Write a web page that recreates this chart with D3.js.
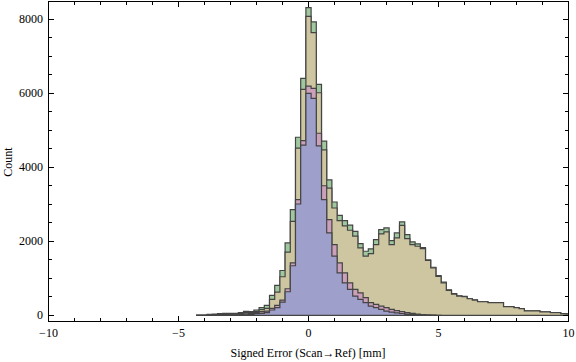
<!DOCTYPE html>
<html>
<head>
<meta charset="utf-8">
<script src="https://cdn.jsdelivr.net/npm/d3@7"></script>
<style>
    html, body { margin: 0; padding: 0; background: #fff; }
    svg { display: block; }
    text { font-family: "Liberation Serif", "DejaVu Serif", serif; font-size: 12px; fill: #000; }
</style>
</head>
<body>
<svg id="chart" width="576" height="362"></svg>
<script>
// bins of 0.2 mm, centred on 0.2*k, k = -21 .. 50
var binFirst = -21;
var binWidth = 0.2;

// all points (green, back)
var greenCounts = [
    5, 9, 27, 36, 45, 54, 54, 54, 72, 108, 99, 144, 207, 269, 539, 808, 1212, 1958, 2856, 4813, 6403,
    8316, 7929, 6241, 4706, 3664, 3063, 2700, 2560, 2440, 2270,
    1940, 1732, 1797, 2047, 2317, 2362, 2020, 2227, 2524, 2182,
    1985, 1931, 1830, 1500, 1300, 1075, 900, 690, 590, 530,
    512, 455, 418, 372, 372, 345, 345, 345, 236, 236,
    208, 181, 123, 123, 123, 96, 96, 73, 73, 46,
    41
];
var tanCounts = [
    5, 9, 15, 20, 25, 27, 36, 36, 45, 72, 72, 108, 153, 189, 431, 628, 1043, 1706, 2540, 4517, 6107,
    8082, 7642, 6016, 4472, 3440, 2901, 2560, 2420, 2300, 2140,
    1823, 1598, 1670, 1913, 2200, 2254, 1913, 2092, 2433, 2074,
    1913, 1867, 1805, 1482, 1285, 1055, 880, 673, 575, 520,
    505, 449, 413, 368, 368, 342, 342, 342, 234, 234,
    207, 180, 122, 122, 122, 95, 95, 72, 72, 45,
    40
];
var pinkCounts = [
    0, 0, 2, 4, 6, 8, 12, 15, 25, 40, 45, 81, 99, 116, 189, 269, 413, 719, 1420, 3125, 4723,
    6196, 6134, 4921, 3502, 2586, 1913, 1420, 1150, 880, 700,
    610, 477, 342, 296, 251, 207, 162, 130, 100, 75,
    55, 35, 20, 12, 6, 3, 0, 0, 0, 0,
    0, 0, 0, 0, 0, 0, 0, 0, 0, 0,
    0, 0, 0, 0, 0, 0, 0, 0, 0, 0,
    0
];
var blueCounts = [
    0, 0, 0, 2, 3, 4, 6, 8, 10, 15, 18, 45, 54, 72, 144, 207, 360, 638, 1340, 3009, 4600,
    6000, 5865, 4580, 3125, 2228, 1598, 1150, 880, 700, 520,
    431, 342, 251, 207, 162, 116, 89, 65, 50, 35,
    22, 12, 6, 3, 1, 0, 0, 0, 0, 0,
    0, 0, 0, 0, 0, 0, 0, 0, 0, 0,
    0, 0, 0, 0, 0, 0, 0, 0, 0, 0,
    0
];

var xTickLabels = [-10, -5, 0, 5, 10];
var yTickLabels = [0, 2000, 4000, 6000, 8000];
var xLabel = "Signed Error (Scan\u2192Ref) [mm]";
var yLabel = "Count";

;(function (win) {

    "use strict";

    //配置
    var _config = {
        frame: {left: 48.5, right: 568.5, top: 1.5, bottom: 321.5},
        xDomain: [-10, 10],
        edge: "#444",
        series: [
            {values: greenCounts, fill: "#a0c89f"},
            {values: tanCounts, fill: "#cdc6a0"},
            {values: pinkCounts, fill: "#cc9fba"},
            {values: blueCounts, fill: "#9f9fcc"}
        ]
    };

    var _tool = {
        // 阶梯轮廓
        stepPoints: function (values) {
            var first = values.findIndex(function (v) { return v > 0; });
            var last = values.length - 1;
            while (last > 0 && values[last] <= 0) last--;
            var pts = [];
            pts.push([(binFirst + first - 0.5) * binWidth, 0]);
            for (var i = first; i <= last; i++) {
                var c = (binFirst + i) * binWidth;
                pts.push([c - binWidth / 2, values[i]]);
                pts.push([c + binWidth / 2, values[i]]);
            }
            pts.push([(binFirst + last + 0.5) * binWidth, 0]);
            return pts;
        },

        draw: function () {
            var f = _config.frame;
            var svg = d3.select("#chart");

            var ymax = d3.max(greenCounts);
            var pad = ymax * 0.02;

            var x = d3.scaleLinear().domain(_config.xDomain).range([f.left, f.right]);
            var y = d3.scaleLinear().domain([-pad, ymax + pad]).range([f.bottom, f.top]);

            svg.append("defs").append("clipPath").attr("id", "plot-clip")
                .append("rect")
                .attr("x", f.left).attr("y", f.top)
                .attr("width", f.right - f.left).attr("height", f.bottom - f.top);

            var line = d3.line()
                .x(function (d) { return x(d[0]); })
                .y(function (d) { return y(d[1]); });

            //直方图
            svg.append("g")
                .attr("clip-path", "url(#plot-clip)")
                .selectAll("path")
                .data(_config.series)
                .enter()
                .append("path")
                .attr("d", function (d) { return line(_tool.stepPoints(d.values)) + "Z"; })
                .attr("fill", function (d) { return d.fill; })
                .attr("stroke", _config.edge)
                .attr("stroke-width", 1.2)
                .attr("stroke-linejoin", "miter");

            //边框
            svg.append("rect")
                .attr("x", f.left).attr("y", f.top)
                .attr("width", f.right - f.left).attr("height", f.bottom - f.top)
                .attr("fill", "none").attr("stroke", "#000").attr("stroke-width", 1);

            var ticks = svg.append("g").attr("stroke", "#000").attr("stroke-width", 1);

            // x 刻度 (上下两边)
            d3.range(-10, 11, 1).forEach(function (v) {
                var len = (v % 5 === 0) ? 5.5 : 3.5;
                var px = Math.round(x(v) - 0.5) + 0.5;
                ticks.append("line").attr("x1", px).attr("x2", px)
                    .attr("y1", f.bottom).attr("y2", f.bottom - len);
                ticks.append("line").attr("x1", px).attr("x2", px)
                    .attr("y1", f.top).attr("y2", f.top + len);
            });

            // y 刻度 (左右两边)
            d3.range(0, ymax + pad, 500).forEach(function (v) {
                var len = (v % 2000 === 0) ? 5.5 : 3.5;
                var py = Math.round(y(v) - 0.5) + 0.5;
                ticks.append("line").attr("x1", f.left).attr("x2", f.left + len)
                    .attr("y1", py).attr("y2", py);
                ticks.append("line").attr("x1", f.right).attr("x2", f.right - len)
                    .attr("y1", py).attr("y2", py);
            });

            // 刻度文字
            svg.append("g").selectAll("text")
                .data(xTickLabels)
                .enter()
                .append("text")
                .attr("x", function (d) { return x(d); })
                .attr("y", 337)
                .attr("text-anchor", "middle")
                .text(function (d) { return d < 0 ? "\u2212" + Math.abs(d) : d; });

            svg.append("g").selectAll("text")
                .data(yTickLabels)
                .enter()
                .append("text")
                .attr("x", 43)
                .attr("y", function (d) { return y(d) + 4; })
                .attr("text-anchor", "end")
                .text(function (d) { return d; });

            svg.append("text")
                .attr("x", 308).attr("y", 357)
                .attr("text-anchor", "middle")
                .text(xLabel);

            svg.append("text")
                .attr("transform", "translate(12,162) rotate(-90)")
                .attr("text-anchor", "middle")
                .text(yLabel);
        }
    };

    _tool.draw();

})(window);
</script>
</body>
</html>
